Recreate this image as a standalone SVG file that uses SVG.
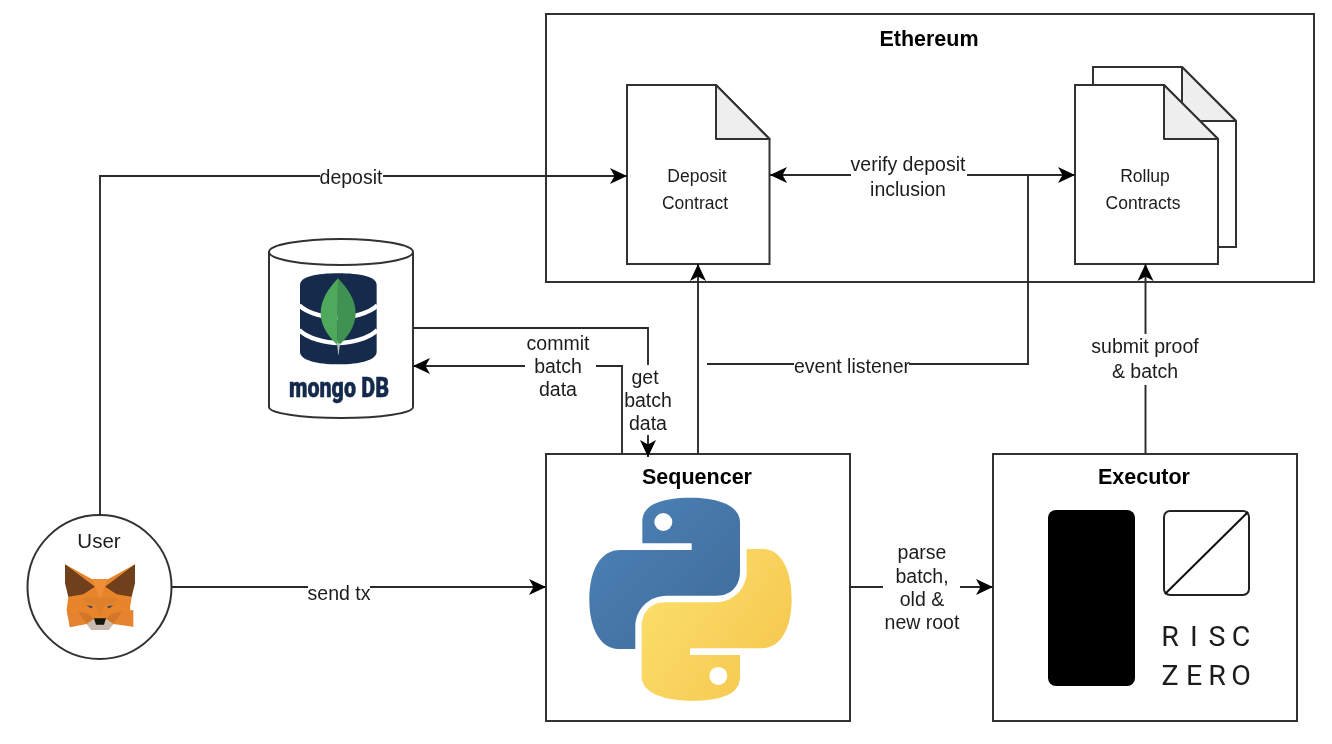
<svg xmlns="http://www.w3.org/2000/svg" width="1332" height="744" viewBox="0 0 1332 744">
<style>
text{font-family:"Liberation Sans",Arial,sans-serif;fill:#1c1c1c;text-anchor:middle}
.lab{font-size:19.5px}
.doc{font-size:17.5px}
.title{font-size:21.5px;font-weight:bold;fill:#000}
.box{fill:#fff;stroke:#333;stroke-width:2}
.fold{fill:#eee;stroke:#333;stroke-width:2;stroke-linejoin:round}
.line{fill:none;stroke:#2a2a2a;stroke-width:1.9}
.arr{marker-end:url(#ah)}
.risc{font-family:Roboto,"Liberation Sans",sans-serif;font-size:28.500px;font-weight:400}
</style>
<defs>
<marker id="ah" markerUnits="userSpaceOnUse" markerWidth="18" markerHeight="18" refX="17" refY="9" orient="auto-start-reverse"><path d="M17 9L0 1L4.500 9L0 17Z" fill="#000"/></marker>
<linearGradient id="pb" x1="0" y1="0" x2="1" y2="1"><stop offset="0" stop-color="#4c82b8"/><stop offset="1" stop-color="#3f6b98"/></linearGradient>
<linearGradient id="py" x1="0" y1="0" x2="1" y2="0.7"><stop offset="0" stop-color="#fbe26e"/><stop offset="1" stop-color="#f6c850"/></linearGradient>
<filter id="soft" filterUnits="userSpaceOnUse" x="0" y="0" width="1332" height="744"><feGaussianBlur stdDeviation="0.4"/></filter>
</defs>
<rect width="1332" height="744" fill="#fff"/>
<g filter="url(#soft)">
<g id="ethereum"><rect class="box" x="546" y="14" width="768" height="268"/><text class="title" x="929" y="46">Ethereum</text></g>
<g id="deposit-contract">
<path class="box" d="M627 85H716L769.500 139V264H627Z"/><path class="fold" d="M716 85L769.500 139H716Z"/>
<text class="doc" x="697" y="182">Deposit</text><text class="doc" x="695" y="209">Contract</text>
</g>
<g id="rollup-contracts">
<path class="box" d="M1093 67H1182L1236 121V247H1093Z"/><path class="fold" d="M1182 67L1236 121H1182Z"/>
<path class="box" d="M1075 85H1164L1218 139V264H1075Z"/><path class="fold" d="M1164 85L1218 139H1164Z"/>
<text class="doc" x="1145" y="182">Rollup</text><text class="doc" x="1143" y="209">Contracts</text>
</g>
<g id="mongodb">
<path class="box" d="M269 252V407C269 413 300 418 341 418C382 418 413 413 413 407V252"/>
<ellipse class="box" cx="341" cy="252" rx="72" ry="13"/>
<g transform="translate(250 230) scale(0.3333)">
<path d="M150 165C150 140 200 130 265 130C330 130 380 140 380 165V365C380 390 330 403 265 403C200 403 150 390 150 365Z" fill="#12294b"/>
<path d="M148 226C170 250 230 264 265 264C300 264 360 250 382 226M148 300C170 325 230 339 265 339C300 339 360 325 382 300" fill="none" stroke="#fff" stroke-width="13"/>
<path d="M264 145C232 180 212 212 212 250C212 295 245 328 263 347Z" fill="#50a95b"/>
<path d="M264 145C297 180 317 212 317 250C317 295 285 328 267 347L263 347Z" fill="#3f9253"/>
<path d="M261 340H270L266 375H265Z" fill="#b9c8b6"/>
</g>
<text x="339" y="397" style="font-family:Roboto,sans-serif;font-size:27px;font-weight:900;fill:#12294b;stroke:#12294b;stroke-width:0.5" textLength="100" lengthAdjust="spacingAndGlyphs">mongo DB</text>
</g>
<g id="user">
<circle class="box" cx="99.500" cy="587" r="72"/>
<text x="99" y="548" style="font-size:20.5px">User</text>
<g transform="translate(50 555) scale(0.3333)">
<path d="M45 28L125 72H175L255 28L245 125L240 160L250 215L190 207L175 225H125L110 207L60 217L50 165L55 125Z" fill="#e8852c"/>
<path d="M45 28L135 95L100 118L55 125L45 85Z" fill="#6f3f1b"/>
<path d="M255 28L165 95L200 118L245 125L255 85Z" fill="#6f3f1b"/>
<path d="M125 72H175L165 95L150 130L135 95Z" fill="#ef9038"/>
<path d="M95 130L135 125L150 130L165 125L205 130L190 145L165 150L150 185L135 150L110 145Z" fill="#de802c"/>
<path d="M50 165L85 170L105 200L60 217Z" fill="#e5832f"/><path d="M250 165L215 170L195 200L250 215Z" fill="#e5832f"/>
<path d="M85 170L110 175L132 190L110 207Z" fill="#d2762a"/><path d="M215 170L190 175L168 190L190 207Z" fill="#d2762a"/>
<path d="M110 207L132 192H168L190 207L175 225H125Z" fill="#c9bcae"/>
<path d="M132 190H168L162 209H138Z" fill="#14120f"/>
<path d="M110 150L130 155L122 160Z" fill="#26405f"/><path d="M190 150L170 155L178 160Z" fill="#26405f"/>
</g>
</g>
<g id="sequencer">
<rect class="box" x="546" y="454" width="304" height="267"/>
<text class="title" x="697" y="484">Sequencer</text>
<g transform="translate(560 450) scale(0.3333)">
<path fill="url(#pb)" d="M395 143C300 143 247 165 247 215V280H395V300H180C125 300 88 355 88 450C88 540 125 597 175 597H226V530C226 480 265 437 320 437H470C515 437 540 405 540 365V215C540 170 480 143 395 143Z"/>
<circle cx="310" cy="216" r="27" fill="#fff"/>
<path fill="url(#py)" d="M395 752C490 752 540 730 540 680V615H390V595H605C660 595 695 540 695 445C695 355 660 297 610 297H560V365C560 415 520 457 465 457H315C270 457 245 490 245 530V680C245 725 305 752 395 752Z"/>
<circle cx="475" cy="678" r="27" fill="#fff"/>
</g>
</g>
<g id="executor">
<rect class="box" x="993" y="454" width="304" height="267"/>
<text class="title" x="1144" y="484">Executor</text>
<rect x="1048" y="510" width="87" height="176" rx="8" fill="#000"/>
<rect x="1164" y="511" width="85" height="84" rx="6" fill="none" stroke="#222" stroke-width="2"/>
<path d="M1165 594L1248 512" stroke="#111" stroke-width="2"/>
<text class="risc" x="1170 1194 1217 1241" y="646">RISC</text>
<text class="risc" x="1170 1194 1217 1241" y="685">ZERO</text>
</g>
<g id="connectors">
<path class="line" d="M100 515V176H320"/><path class="line arr" d="M383 176H627"/>
<path class="line" d="M171 587H308"/><path class="line arr" d="M370 587H546"/>
<path class="line arr" d="M851 175H770"/><path class="line arr" d="M967 175H1075"/>
<path class="line" d="M1028 175V364H909"/><path class="line" d="M794 364H707"/>
<path class="line arr" d="M698 454V264"/>
<path class="line" d="M1145.500 454V385"/><path class="line arr" d="M1145.500 334V264"/>
<path class="line" d="M850 587H883"/><path class="line arr" d="M960 587H993"/>
<path class="line" d="M413 328H648V365"/><path class="line arr" d="M648 435V457"/>
<path class="line" d="M622 454V366H596"/><path class="line arr" d="M525 366H413"/>
</g>
<g id="labels">
<text class="lab" x="351" y="184">deposit</text>
<text class="lab" x="339" y="600">send tx</text>
<text class="lab" x="908" y="171">verify deposit</text><text class="lab" x="908" y="196">inclusion</text>
<text class="lab" x="852" y="373">event listener</text>
<text class="lab" x="1145" y="353">submit proof</text><text class="lab" x="1145" y="378">&amp; batch</text>
<text class="lab" x="922" y="559">parse</text><text class="lab" x="922" y="583">batch,</text><text class="lab" x="922" y="606">old &amp;</text><text class="lab" x="922" y="629">new root</text>
<text class="lab" x="558" y="350">commit</text><text class="lab" x="558" y="373">batch</text><text class="lab" x="558" y="396">data</text>
<text class="lab" x="645" y="384">get</text><text class="lab" x="648" y="407">batch</text><text class="lab" x="648" y="430">data</text>
</g>
</g>
</svg>
